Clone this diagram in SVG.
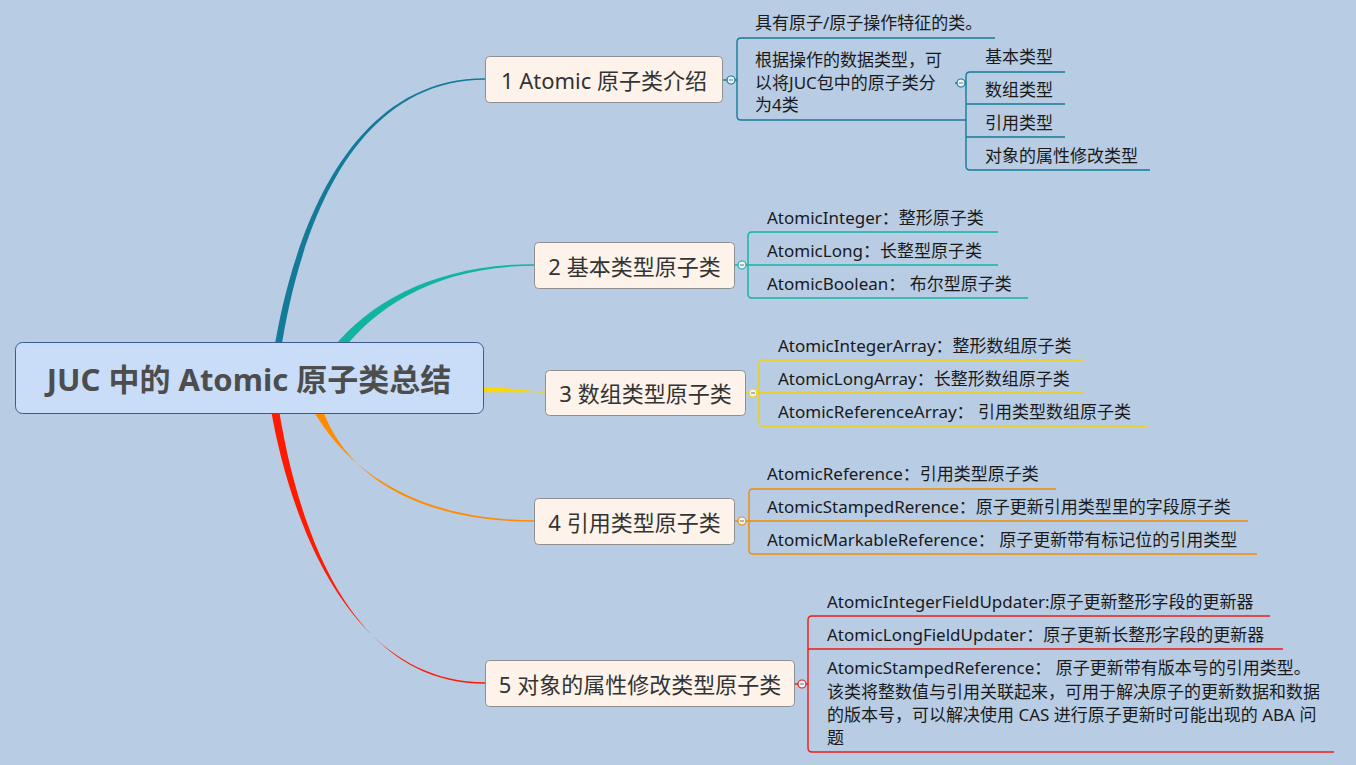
<svg xmlns="http://www.w3.org/2000/svg" width="1356" height="765" viewBox="0 0 1356 765">
<style>
.t{font-family:"Noto Sans","Noto Sans CJK SC",sans-serif;}
.root{font-size:31px;font-weight:bold;fill:#4D4D4D;}
.br{font-size:22px;fill:#333333;}
.ch{font-size:17px;fill:#1A1A1A;}
.box{fill:#FDF3EA;stroke:#8F8F8F;stroke-width:1;}
.ln{fill:none;stroke-width:1.4;}
.cc{stroke-width:1.2;fill:#EEF3F8;}
</style>
<rect width="1356" height="765" fill="#B8CCE4"/>
<g id="connectors">
  <path d="M274,350 C289,258 338,78.2 485,78.2 L485,79.8 C343,79.8 296,252 281,350 Z" fill="#137A98"/>
  <path d="M333,348 C372,299 440,264.2 534,264.2 L534,265.8 C440,265.8 377,305 342,351 Z" fill="#11B3A1"/>
  <path d="M478,387 C510,387 520,391.3 545,391.3 L545,392.7 C520,392.7 510,392 478,392.5 Z" fill="#FFD700"/>
  <path d="M313,410 C349,473 420,520.2 534,520.2 L534,521.8 C420,521.8 346,477 322,408 Z" fill="#FF8C00"/>
  <path d="M271,410 C289,512 345,682.2 485,682.2 L485,683.8 C342,683.8 295,508 279,410 Z" fill="#FF1A00"/>
  <!-- branch 1 -->
  <g stroke="#137A98" class="ln">
    <path d="M723,80 H737"/>
    <path d="M995,38 H741 Q737,38 737,42 V116 Q737,120 741,120 H966"/>
    <path d="M955,83 H966"/>
    <path d="M1065,72 H970 Q966,72 966,76 V166 Q966,170 970,170 H1150"/>
    <path d="M966,104 H1065 M966,137 H1065"/>
  </g>
  <!-- branch 2 -->
  <g stroke="#12B3A3" class="ln">
    <path d="M735,265 H748"/>
    <path d="M998,232 H752 Q748,232 748,236 V294 Q748,298 752,298 H1028"/>
    <path d="M748,265 H998"/>
  </g>
  <!-- branch 3 -->
  <g stroke="#F7D100" class="ln">
    <path d="M746,393 H759"/>
    <path d="M1084,360 H763 Q759,360 759,364 V422 Q759,426 763,426 H1147"/>
    <path d="M759,393 H1084"/>
  </g>
  <!-- branch 4 -->
  <g stroke="#F28C00" class="ln">
    <path d="M735,521 H749"/>
    <path d="M1056,489 H753 Q749,489 749,493 V550 Q749,554 753,554 H1257"/>
    <path d="M749,521 H1248"/>
  </g>
  <!-- branch 5 -->
  <g stroke="#EE1C14" class="ln">
    <path d="M795,684 H808"/>
    <path d="M1270,616 H812 Q808,616 808,620 V748 Q808,752 812,752 H1334"/>
    <path d="M808,649 H1283"/>
  </g>
  <!-- collapse circles -->
  <g>
    <circle cx="731" cy="80" r="4" stroke="#137A98" class="cc"/><path d="M729,80 H733" stroke="#777" stroke-width="1"/>
    <circle cx="961" cy="83" r="4" stroke="#137A98" class="cc"/><path d="M959,83 H963" stroke="#777" stroke-width="1"/>
    <circle cx="742" cy="265" r="4" stroke="#12B3A3" class="cc"/><path d="M740,265 H744" stroke="#777" stroke-width="1"/>
    <circle cx="753" cy="393" r="4" stroke="#F7D100" class="cc"/><path d="M751,393 H755" stroke="#777" stroke-width="1"/>
    <circle cx="742" cy="521" r="4" stroke="#F28C00" class="cc"/><path d="M740,521 H744" stroke="#777" stroke-width="1"/>
    <circle cx="802" cy="684" r="4" stroke="#EE1C14" class="cc"/><path d="M800,684 H804" stroke="#777" stroke-width="1"/>
  </g>
</g>
<g id="root">
  <rect x="15.5" y="342.5" width="468" height="71" rx="7" fill="#C9DCF8" stroke="#3E5A8C" stroke-width="1"/>
  <text class="t root" x="249" y="379" text-anchor="middle" dominant-baseline="central">JUC 中的 Atomic 原子类总结</text>
</g>
<g id="b1">
  <rect class="box" x="485.5" y="56.5" width="237" height="46" rx="4"/>
  <text class="t br" x="604" y="80" text-anchor="middle" dominant-baseline="central">1 Atomic 原子类介绍</text>
</g>
<g id="b1c1"><text class="t ch" x="755" y="22" dominant-baseline="central">具有原子/原子操作特征的类。</text></g>
<g id="b1c2"><text class="t ch" dominant-baseline="central"><tspan x="755" y="59">根据操作的数据类型，可</tspan><tspan x="755" y="81.5">以将JUC包中的原子类分</tspan><tspan x="755" y="104">为4类</tspan></text></g>
<g id="b1c2a"><text class="t ch" x="985" y="56" dominant-baseline="central">基本类型</text></g>
<g id="b1c2b"><text class="t ch" x="985" y="89" dominant-baseline="central">数组类型</text></g>
<g id="b1c2c"><text class="t ch" x="985" y="122" dominant-baseline="central">引用类型</text></g>
<g id="b1c2d"><text class="t ch" x="985" y="155" dominant-baseline="central">对象的属性修改类型</text></g>
<g id="b2">
  <rect class="box" x="534.5" y="242.5" width="200" height="46" rx="4"/>
  <text class="t br" x="634.5" y="265.5" text-anchor="middle" dominant-baseline="central">2 基本类型原子类</text>
</g>
<g id="b2c1"><text class="t ch" x="767" y="217" dominant-baseline="central">AtomicInteger：整形原子类</text></g>
<g id="b2c2"><text class="t ch" x="767" y="250" dominant-baseline="central">AtomicLong：长整型原子类</text></g>
<g id="b2c3"><text class="t ch" x="767" y="283" dominant-baseline="central">AtomicBoolean： 布尔型原子类</text></g>
<g id="b3">
  <rect class="box" x="545.5" y="370.5" width="200" height="45" rx="4"/>
  <text class="t br" x="645.5" y="393" text-anchor="middle" dominant-baseline="central">3 数组类型原子类</text>
</g>
<g id="b3c1"><text class="t ch" x="778" y="345" dominant-baseline="central">AtomicIntegerArray：整形数组原子类</text></g>
<g id="b3c2"><text class="t ch" x="778" y="378" dominant-baseline="central">AtomicLongArray：长整形数组原子类</text></g>
<g id="b3c3"><text class="t ch" x="778" y="411" dominant-baseline="central">AtomicReferenceArray： 引用类型数组原子类</text></g>
<g id="b4">
  <rect class="box" x="534.5" y="498.5" width="200" height="46" rx="4"/>
  <text class="t br" x="634.5" y="521.5" text-anchor="middle" dominant-baseline="central">4 引用类型原子类</text>
</g>
<g id="b4c1"><text class="t ch" x="767" y="473" dominant-baseline="central">AtomicReference：引用类型原子类</text></g>
<g id="b4c2"><text class="t ch" x="767" y="506" dominant-baseline="central">AtomicStampedRerence：原子更新引用类型里的字段原子类</text></g>
<g id="b4c3"><text class="t ch" x="767" y="539" dominant-baseline="central">AtomicMarkableReference： 原子更新带有标记位的引用类型</text></g>
<g id="b5">
  <rect class="box" x="485.5" y="660.5" width="309" height="46" rx="4"/>
  <text class="t br" x="640" y="683.5" text-anchor="middle" dominant-baseline="central">5 对象的属性修改类型原子类</text>
</g>
<g id="b5c1"><text class="t ch" x="827" y="601" dominant-baseline="central">AtomicIntegerFieldUpdater:原子更新整形字段的更新器</text></g>
<g id="b5c2"><text class="t ch" x="827" y="634" dominant-baseline="central">AtomicLongFieldUpdater：原子更新长整形字段的更新器</text></g>
<g id="b5c3"><text class="t ch" dominant-baseline="central"><tspan x="827" y="667">AtomicStampedReference： 原子更新带有版本号的引用类型。</tspan><tspan x="827" y="690.5">该类将整数值与引用关联起来，可用于解决原子的更新数据和数据</tspan><tspan x="827" y="714">的版本号，可以解决使用 CAS 进行原子更新时可能出现的 ABA 问</tspan><tspan x="827" y="737">题</tspan></text></g>
</svg>
